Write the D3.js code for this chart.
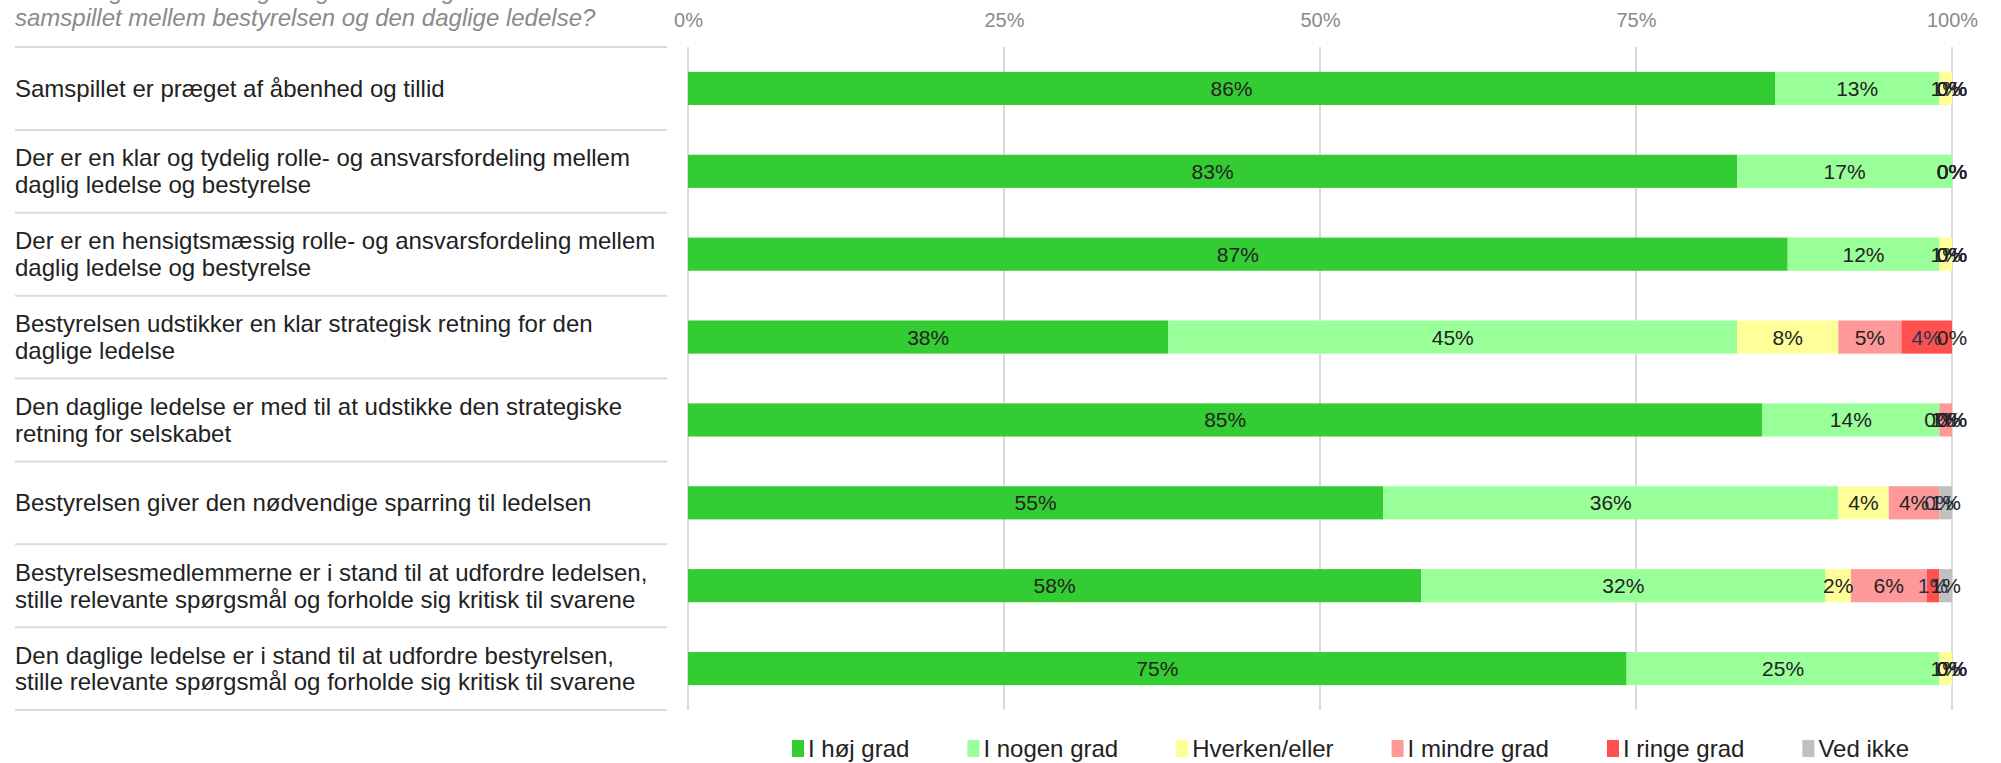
<!DOCTYPE html>
<html>
<head>
<meta charset="utf-8">
<script src="https://cdn.jsdelivr.net/npm/d3@7"></script>
<style>
  html, body { margin: 0; padding: 0; background: #fff; }
  svg { display: block; }
  text { font-family: "Liberation Sans", Arial, Helvetica, sans-serif; }
</style>
</head>
<body>
<svg id="chart" width="2001" height="763"></svg>
<script>
// Question text (first line runs off the top edge)
const titleLines = [
  "I hvilken grad er du enig i følgende udsagn vedrørende",
  "samspillet mellem bestyrelsen og den daglige ledelse?"
];

const categories = [
  "Samspillet er præget af åbenhed og tillid",
  "Der er en klar og tydelig rolle- og ansvarsfordeling mellem daglig ledelse og bestyrelse",
  "Der er en hensigtsmæssig rolle- og ansvarsfordeling mellem daglig ledelse og bestyrelse",
  "Bestyrelsen udstikker en klar strategisk retning for den daglige ledelse",
  "Den daglige ledelse er med til at udstikke den strategiske retning for selskabet",
  "Bestyrelsen giver den nødvendige sparring til ledelsen",
  "Bestyrelsesmedlemmerne er i stand til at udfordre ledelsen, stille relevante spørgsmål og forholde sig kritisk til svarene",
  "Den daglige ledelse er i stand til at udfordre bestyrelsen, stille relevante spørgsmål og forholde sig kritisk til svarene"
];

const seriesNames = ["I høj grad", "I nogen grad", "Hverken/eller", "I mindre grad", "I ringe grad", "Ved ikke"];
const seriesColors = ["#33cc33", "#99ff99", "#ffff99", "#ff9999", "#ff5050", "#c0c0c0"];
const labelColors = ["#222222", "#222222", "#222222", "#222222", "#1f3552", "#222222"];

// Percentages per answer option, one value per statement
const hojGrad      = [86, 83, 87, 38, 85, 55, 58, 75];
const nogenGrad    = [13, 17, 12, 45, 14, 36, 32, 25];
const hverkenEller = [ 1,  0,  1,  8,  0,  4,  2,  1];
const mindreGrad   = [ 0,  0,  0,  5,  1,  4,  6,  0];
const ringeGrad    = [ 0,  0,  0,  4,  0,  0,  1,  0];
const vedIkke      = [ 0,  0,  0,  0,  0,  1,  1,  0];

const tickValues = [0, 0.25, 0.5, 0.75, 1];

const seriesValues = [hojGrad, nogenGrad, hverkenEller, mindreGrad, ringeGrad, vedIkke];
const rows = categories.map((c, i) => {
  const r = { category: c };
  seriesNames.forEach((s, k) => { r[s] = seriesValues[k][i]; });
  return r;
});

const svg = d3.select("#chart");
const FONT = '"Liberation Sans", Arial, Helvetica, sans-serif';

const x = d3.scaleLinear().domain([0, 1]).range([688, 1952]);
const y = d3.scaleBand().domain(categories).range([47, 710])
  .paddingInner(0.6).paddingOuter(0.3);
const step = y.step();
const rowTop = c => y(c) - y.paddingOuter() * step;

const stack = d3.stack().keys(seriesNames).offset(d3.stackOffsetExpand);
const stacked = stack(rows);

// Title
svg.append("g").selectAll("text").data(titleLines).join("text")
  .attr("x", 15)
  .attr("y", (d, i) => -1.5 + i * 27)
  .attr("font-size", 24)
  .attr("font-style", "italic")
  .attr("fill", "#8a8a8a")
  .text(d => d);

// Vertical gridlines
svg.append("g").selectAll("line").data(tickValues).join("line")
  .attr("x1", d => x(d)).attr("x2", d => x(d))
  .attr("y1", 47).attr("y2", 710)
  .attr("stroke", "#dadada").attr("stroke-width", 2);

// Percent axis on top
const axis = d3.axisTop(x).tickValues(tickValues).tickFormat(d3.format(".0%")).tickSize(0);
const axisG = svg.append("g").attr("transform", "translate(0,27)").call(axis);
axisG.select(".domain").remove();
axisG.selectAll("text")
  .attr("font-family", FONT).attr("font-size", 20).attr("fill", "#8a8a8a")
  .attr("dy", 0).attr("y", 0);

// Row separators in label column
const sepYs = categories.map(rowTop).concat([710]);
svg.append("g").selectAll("line").data(sepYs).join("line")
  .attr("x1", 15).attr("x2", 667)
  .attr("y1", d => d).attr("y2", d => d)
  .attr("stroke", "#dadada").attr("stroke-width", 2);

// Category labels with word wrapping
const labelG = svg.append("g");
const wrapWidth = 650;
categories.forEach(c => {
  const t = labelG.append("text").attr("x", 15).attr("font-size", 24).attr("fill", "#222");
  const words = c.split(" ");
  let lines = [], line = [];
  const probe = t.append("tspan");
  words.forEach(w => {
    const test = line.concat([w]).join(" ");
    probe.text(test);
    if (probe.node().getComputedTextLength() > wrapWidth && line.length) {
      lines.push(line.join(" "));
      line = [w];
    } else {
      line.push(w);
    }
  });
  lines.push(line.join(" "));
  probe.remove();
  const lh = 26.8;
  const cy = y(c) + y.bandwidth() / 2;
  const y0 = cy - (lines.length - 1) * lh / 2 + 8.5;
  lines.forEach((l, i) => {
    t.append("tspan").attr("x", 15).attr("y", y0 + i * lh).text(l);
  });
});

// Stacked bars
const layers = svg.append("g").selectAll("g").data(stacked).join("g")
  .attr("fill", (d, i) => seriesColors[i]);
layers.selectAll("rect").data(d => d).join("rect")
  .attr("x", d => x(d[0]))
  .attr("width", d => x(d[1]) - x(d[0]))
  .attr("y", d => y(d.data.category))
  .attr("height", y.bandwidth());

// Value labels
const labelLayers = svg.append("g").selectAll("g").data(stacked).join("g")
  .attr("fill", (d, i) => labelColors[i]);
labelLayers.each(function (layer) {
  d3.select(this).selectAll("text").data(layer).join("text")
    .attr("x", d => (x(d[0]) + x(d[1])) / 2)
    .attr("y", d => y(d.data.category) + y.bandwidth() / 2 + 7.5)
    .attr("text-anchor", "middle")
    .attr("font-size", 21)
    .text(d => d.data[layer.key] + "%");
});

// Legend (flowing left to right)
const legend = svg.append("g").attr("transform", "translate(0,757)");
let lx = 792;
seriesNames.forEach((s, i) => {
  legend.append("rect").attr("x", lx).attr("y", -17).attr("width", 12).attr("height", 17)
    .attr("fill", seriesColors[i]);
  const t = legend.append("text").attr("x", lx + 16).attr("y", 0)
    .attr("font-size", 24).attr("fill", "#222").text(s);
  lx += 16 + t.node().getComputedTextLength() + 58;
});
</script>
</body>
</html>
